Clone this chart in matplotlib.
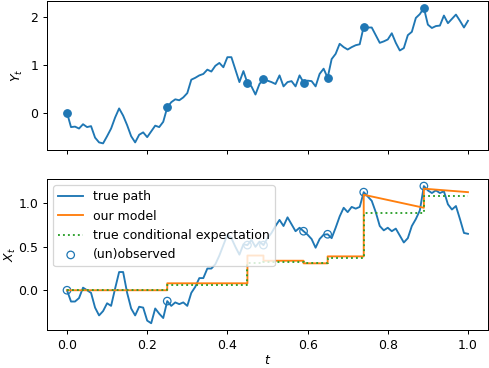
import matplotlib
matplotlib.use("Agg")
import matplotlib.pyplot as plt
import numpy as np

# time grid and the two paths (dt = 0.01)
t = np.linspace(0, 1, 101)

Y = [0.0, -0.30, -0.29, -0.33, -0.24, -0.30, -0.28, -0.52, -0.62, -0.64,
     -0.49, -0.33, -0.10, 0.09, -0.06, -0.26, -0.49, -0.62, -0.46, -0.41,
     -0.51, -0.39, -0.27, -0.30, -0.19, 0.11, 0.22, 0.28, 0.26, 0.32,
     0.41, 0.69, 0.73, 0.78, 0.81, 0.90, 0.86, 0.98, 1.04, 0.95,
     1.16, 1.16, 0.90, 0.64, 0.87, 0.62, 0.55, 0.38, 0.60, 0.70,
     0.67, 0.64, 0.60, 0.78, 0.55, 0.64, 0.66, 0.55, 0.78, 0.63,
     0.67, 0.66, 0.55, 0.81, 0.92, 0.73, 1.12, 1.23, 1.44, 1.37,
     1.32, 1.37, 1.41, 1.43, 1.80, 1.78, 1.78, 1.62, 1.46, 1.49,
     1.53, 1.66, 1.46, 1.30, 1.35, 1.62, 1.69, 1.98, 2.06, 2.19,
     1.84, 1.77, 1.81, 1.82, 2.03, 1.87, 1.96, 2.05, 1.92, 1.78, 1.92]

X = [0.0, -0.13, -0.13, -0.09, 0.03, 0.0, -0.03, -0.20, -0.29, -0.24,
     -0.15, -0.18, 0.02, 0.21, 0.21, -0.03, -0.21, -0.29, -0.19, -0.20,
     -0.35, -0.38, -0.21, -0.27, -0.32, -0.125, -0.18, -0.14, -0.16, -0.14,
     -0.18, -0.03, 0.04, 0.14, 0.14, 0.25, 0.25, 0.30, 0.40, 0.52,
     0.64, 0.60, 0.50, 0.41, 0.53, 0.52, 0.58, 0.50, 0.56, 0.52,
     0.60, 0.66, 0.74, 0.81, 0.74, 0.84, 0.76, 0.68, 0.72, 0.68,
     0.64, 0.59, 0.49, 0.59, 0.64, 0.645, 0.60, 0.72, 0.85, 0.95,
     0.90, 0.96, 0.94, 0.96, 1.13, 1.08, 1.03, 0.90, 0.74, 0.69,
     0.72, 0.68, 0.71, 0.63, 0.55, 0.60, 0.74, 0.82, 0.92, 1.20,
     1.15, 1.12, 1.15, 1.12, 1.14, 0.99, 0.93, 0.97, 0.82, 0.66, 0.65]

# observation times (as grid indices) and the model / conditional expectation per interval
obs_idx = [0, 25, 45, 49, 59, 65, 74, 89]
model_start = [0.0, 0.08, 0.40, 0.34, 0.31, 0.39, 1.10, 1.17]
model_end = [0.0, 0.08, 0.40, 0.34, 0.31, 0.39, 0.95, 1.13]
cond_exp = [0.0, 0.06, 0.31, 0.33, 0.315, 0.37, 0.89, 1.09]

Y = np.array(Y)
X = np.array(X)
t_obs = t[obs_idx]
t_edges = list(t_obs) + [t[-1]]

# build piecewise lines with vertical jumps at observation times
mx, my, cx, cy = [], [], [], []
for k in range(len(obs_idx)):
    mx += [t_edges[k], t_edges[k + 1]]
    my += [model_start[k], model_end[k]]
    cx += [t_edges[k], t_edges[k + 1]]
    cy += [cond_exp[k], cond_exp[k]]

DPI = 90
fig = plt.figure(figsize=(489 / DPI, 368 / DPI), dpi=DPI)
ax1 = fig.add_axes([0.096, 0.592, 0.902, 0.405])
ax2 = fig.add_axes([0.096, 0.103, 0.902, 0.410], sharex=ax1)

ax1.plot(t, Y, color="C0")
ax1.plot(t_obs, Y[obs_idx], "o", color="C0")
ax1.set_ylabel("$Y_t$")
plt.setp(ax1.get_xticklabels(), visible=False)

ax2.plot(t, X, color="C0", label="true path")
ax2.plot(mx, my, color="C1", label="our model")
ax2.plot(cx, cy, ":", color="C2", label="true conditional expectation")
ax2.scatter(t_obs, X[obs_idx], facecolors="none", edgecolors="C0",
            label="(un)observed")
ax2.set_xlabel("$t$", labelpad=2)
ax2.set_ylabel("$X_t$", labelpad=0)
ax2.legend(loc="upper left")

fig.savefig("out.png", dpi=DPI)
